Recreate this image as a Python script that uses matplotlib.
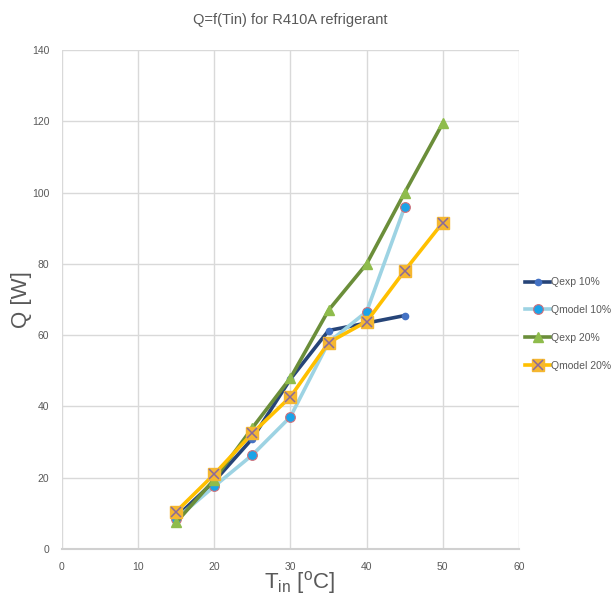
import matplotlib
matplotlib.use('Agg')
import matplotlib.pyplot as plt
from matplotlib.legend_handler import HandlerTuple

plt.rcParams['font.family'] = ['Liberation Sans Narrow', 'Liberation Sans', 'DejaVu Sans']
plt.rcParams['mathtext.fontset'] = 'custom'
plt.rcParams['mathtext.rm'] = 'Liberation Sans'

# data
t_10 = [15, 20, 25, 30, 35, 40, 45]
qexp_10 = [9, 19, 31, 47.7, 61.3, 63.4, 65.5]
qmodel_10 = [8.5, 17.6, 26.4, 37.1, 58, 66.6, 96]
t_20 = [15, 20, 25, 30, 35, 40, 45, 50]
qexp_20 = [7.5, 19.5, 34, 48, 67, 80, 100, 119.5]
qmodel_20 = [10.5, 21, 32.5, 42.7, 57.9, 63.8, 78.1, 91.6]

fig = plt.figure(figsize=(6.16, 5.98), dpi=100)
ax = fig.add_axes([0.1006, 0.0819, 0.7419, 0.8345])

l1, = ax.plot(t_10, qexp_10, color='#264478', lw=2.6, marker='o', ms=4.5,
              mfc='#4472c4', mec='#4472c4', zorder=3)
l2, = ax.plot(t_10, qmodel_10, color='#9dd3e3', lw=2.6, marker='o', ms=7,
              mfc='#1aa3e8', mec='#d0707a', mew=0.8, zorder=3)
l3, = ax.plot(t_20, qexp_20, color='#6b8e3a', lw=2.6, marker='^', ms=7,
              mfc='#8fbc4c', mec='#8fbc4c', zorder=3)
l4, = ax.plot(t_20, qmodel_20, color='#ffc000', lw=2.6, marker='s', ms=8.5,
              mfc='#f5b730', mec='#f5b730', zorder=3)
l4x, = ax.plot(t_20, qmodel_20, ls='none', marker='x', ms=7, mew=1.1,
               color='#8a6a9a', zorder=4)

ax.set_xlim(0, 60)
ax.set_ylim(0, 140)
ax.set_xticks(range(0, 61, 10))
ax.set_yticks(range(0, 141, 20))
ax.grid(True, color='#d9d9d9', lw=1)
ax.set_axisbelow(True)
for s in ['top', 'right', 'left']:
    ax.spines[s].set_visible(False)
ax.spines['bottom'].set_color('#d0d0d0')
ax.spines['bottom'].set_linewidth(1.5)
ax.tick_params(axis='y', length=0, colors='#595959', labelsize=7.5, pad=9)
ax.tick_params(axis='x', length=0, colors='#595959', labelsize=7.5, pad=9)

ax.set_title('Q=f(Tin) for R410A refrigerant', fontsize=10.5, color='#595959', pad=19)
ax.set_ylabel('Q [W]', fontsize=16, color='#595959')
ax.yaxis.set_label_coords(-0.065, 0.5)
ax.set_xlabel(r'T$_{\mathregular{in}}$ [$^{\mathregular{o}}$C]', fontsize=16,
              color='#595959')
ax.xaxis.set_label_coords(0.52, -0.04)

ax.legend([l1, l2, l3, (l4, l4x)], ['Qexp 10%', 'Qmodel 10%', 'Qexp 20%', 'Qmodel 20%'],
          handler_map={tuple: HandlerTuple(ndivide=1, pad=0)},
          loc='center left', bbox_to_anchor=(1.014, 0.451), frameon=False,
          fontsize=7.5, labelcolor='#595959', handlelength=2.4,
          labelspacing=1.7, handletextpad=0.1, borderaxespad=0, borderpad=0)

fig.savefig('out.png', dpi=100)
